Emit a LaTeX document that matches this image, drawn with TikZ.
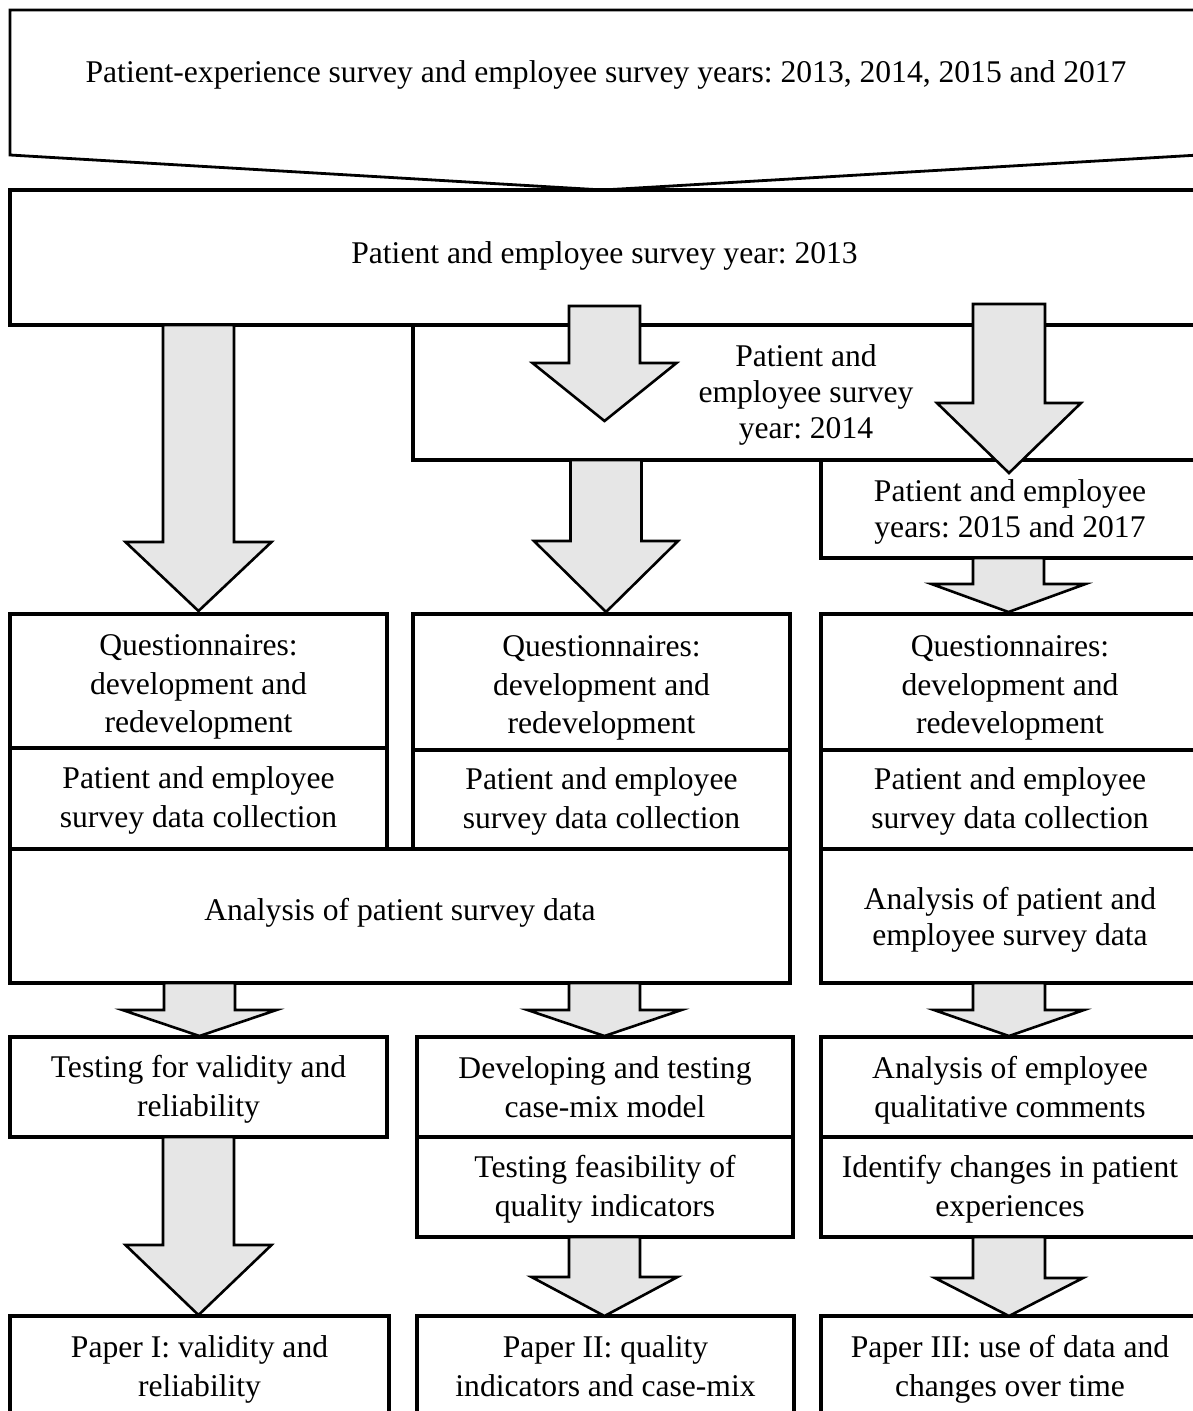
\documentclass[tikz,border=0pt]{standalone}
\usepackage{fontspec}
\setmainfont{Liberation Serif}
\definecolor{arrgray}{HTML}{E6E6E6}
\tikzset{
  box/.style={draw, line width=3.2pt, fill=white, inner sep=0pt},
  txt/.style={inner sep=0pt, align=center, font=\fontsize{31.6}{38.5}\selectfont},
  tight/.style={font=\fontsize{31.6}{36}\selectfont},
  blockarr/.style={draw, fill=arrgray, line width=2.6pt, line join=miter},
  pent/.style={draw, line width=2.8pt, fill=white, line join=miter},
}
% block arrow: #1 centre x, #2 top y, #3 head start y, #4 tip y, #5 shaft half width, #6 head half width
\newcommand\barrow[6]{%
  \draw[blockarr] (#1-#5,#2) -- (#1+#5,#2) -- (#1+#5,#3) -- (#1+#6,#3) -- (#1,#4)
    -- (#1-#6,#3) -- (#1-#5,#3) -- cycle;}
\begin{document}
\frenchspacing
\begin{tikzpicture}[x=1pt,y=-1pt]
\useasboundingbox (0,0) rectangle (1193,1411);
\clip (0,0) rectangle (1193,1411);
\fill[white] (0,0) rectangle (1193,1411);

% top pentagon
\draw[pent] (10,10) -- (1199,10) -- (1199,155) -- (603,190) -- (10,155) -- cycle;
\node[txt] (top) at (606,75)
  {Patient-experience survey and employee survey years: 2013, 2014, 2015 and 2017};

% year boxes
\node[box, minimum width=1189pt, minimum height=135pt] (y13) at (604.5,257.5) {};
\node[txt] (y13t) at ([yshift=2pt]y13.center) {Patient and employee survey year: 2013};
\node[box, minimum width=786pt, minimum height=135pt] (y14) at (806,392.5) {};
\node[txt, tight] (y14t) at ([yshift=-2.5pt]y14.center) {Patient and\\employee survey\\year: 2014};
\node[box, minimum width=378pt, minimum height=98pt] (y15) at (1010,509) {};
\node[txt, tight] (y15t) at ([yshift=-2.5pt]y15.center) {Patient and employee\\years: 2015 and 2017};

% questionnaires
\node[box, minimum width=377pt, minimum height=134pt] (q1) at (198.5,681) {};
\node[txt] (q1t) at ([yshift=-6pt]q1.center) {Questionnaires:\\development and\\redevelopment};
\node[box, minimum width=377pt, minimum height=136pt] (q2) at (601.5,682) {};
\node[txt] (q2t) at ([yshift=-6pt]q2.center) {Questionnaires:\\development and\\redevelopment};
\node[box, minimum width=378pt, minimum height=136pt] (q3) at (1010,682) {};
\node[txt] (q3t) at ([yshift=-6pt]q3.center) {Questionnaires:\\development and\\redevelopment};

% data collection
\node[box, minimum width=377pt, minimum height=101pt] (d1) at (198.5,798.5) {};
\node[txt] (d1t) at ([yshift=-2pt]d1.center) {Patient and employee\\survey data collection};
\node[box, minimum width=377pt, minimum height=99pt] (d2) at (601.5,799.5) {};
\node[txt] (d2t) at ([yshift=-2pt]d2.center) {Patient and employee\\survey data collection};
\node[box, minimum width=378pt, minimum height=99pt] (d3) at (1010,799.5) {};
\node[txt] (d3t) at ([yshift=-2pt]d3.center) {Patient and employee\\survey data collection};

% analysis
\node[box, minimum width=780pt, minimum height=134pt] (a1) at (400,916) {};
\node[txt] (a1t) at ([yshift=3pt]a1.center) {Analysis of patient survey data};
\node[box, minimum width=378pt, minimum height=134pt] (a3) at (1010,916) {};
\node[txt, tight] (a3t) at ([yshift=-4pt]a3.center) {Analysis of patient and\\employee survey data};

% testing row
\node[box, minimum width=377pt, minimum height=100pt] (t1) at (198.5,1087) {};
\node[txt] (t1t) at ([yshift=-2.5pt]t1.center) {Testing for validity and\\reliability};
\node[box, minimum width=376pt, minimum height=100pt] (t2) at (605,1087) {};
\node[txt] (t2t) at (t2.center) {Developing and testing\\case-mix model};
\node[box, minimum width=378pt, minimum height=100pt] (t3) at (1010,1087) {};
\node[txt] (t3t) at ([yshift=-3pt]t3.center) {Analysis of employee\\qualitative comments};
\node[box, minimum width=376pt, minimum height=100pt] (f2) at (605,1187) {};
\node[txt] (f2t) at ([yshift=-2.5pt]f2.center) {Testing feasibility of\\quality indicators};
\node[box, minimum width=378pt, minimum height=100pt] (f3) at (1010,1187) {};
\node[txt] (f3t) at ([yshift=-2pt]f3.center) {Identify changes in patient\\experiences};

% papers
\node[box, minimum width=379pt, minimum height=100pt] (p1) at (199.5,1366) {};
\node[txt] (p1t) at ([yshift=-3.5pt]p1.center) {Paper I: validity and\\reliability};
\node[box, minimum width=377pt, minimum height=100pt] (p2) at (605.5,1366) {};
\node[txt] (p2t) at (p2.center) {Paper II: quality\\indicators and case-mix};
\node[box, minimum width=378pt, minimum height=100pt] (p3) at (1010,1366) {};
\node[txt] (p3t) at ([yshift=-3.5pt]p3.center) {Paper III: use of data and\\changes over time};

% block arrows
\barrow{198.5}{325}{542}{611}{35.5}{73}
\barrow{604.5}{306}{363}{421}{35.5}{72}
\barrow{1009}{304}{403}{473}{36}{72}
\barrow{606}{460}{541}{612}{35.5}{72}
\barrow{1008.5}{558}{584}{612}{35.5}{77}
\barrow{199.5}{983}{1010}{1036}{35.5}{77}
\barrow{604.5}{983}{1010}{1036}{35.5}{77}
\barrow{1009}{983}{1010}{1036}{36}{75}
\barrow{198.5}{1137}{1245}{1315}{35.5}{73}
\barrow{604.5}{1237}{1277}{1316}{35.5}{73}
\barrow{1009}{1237}{1278}{1316}{36}{74}
\end{tikzpicture}
\end{document}
